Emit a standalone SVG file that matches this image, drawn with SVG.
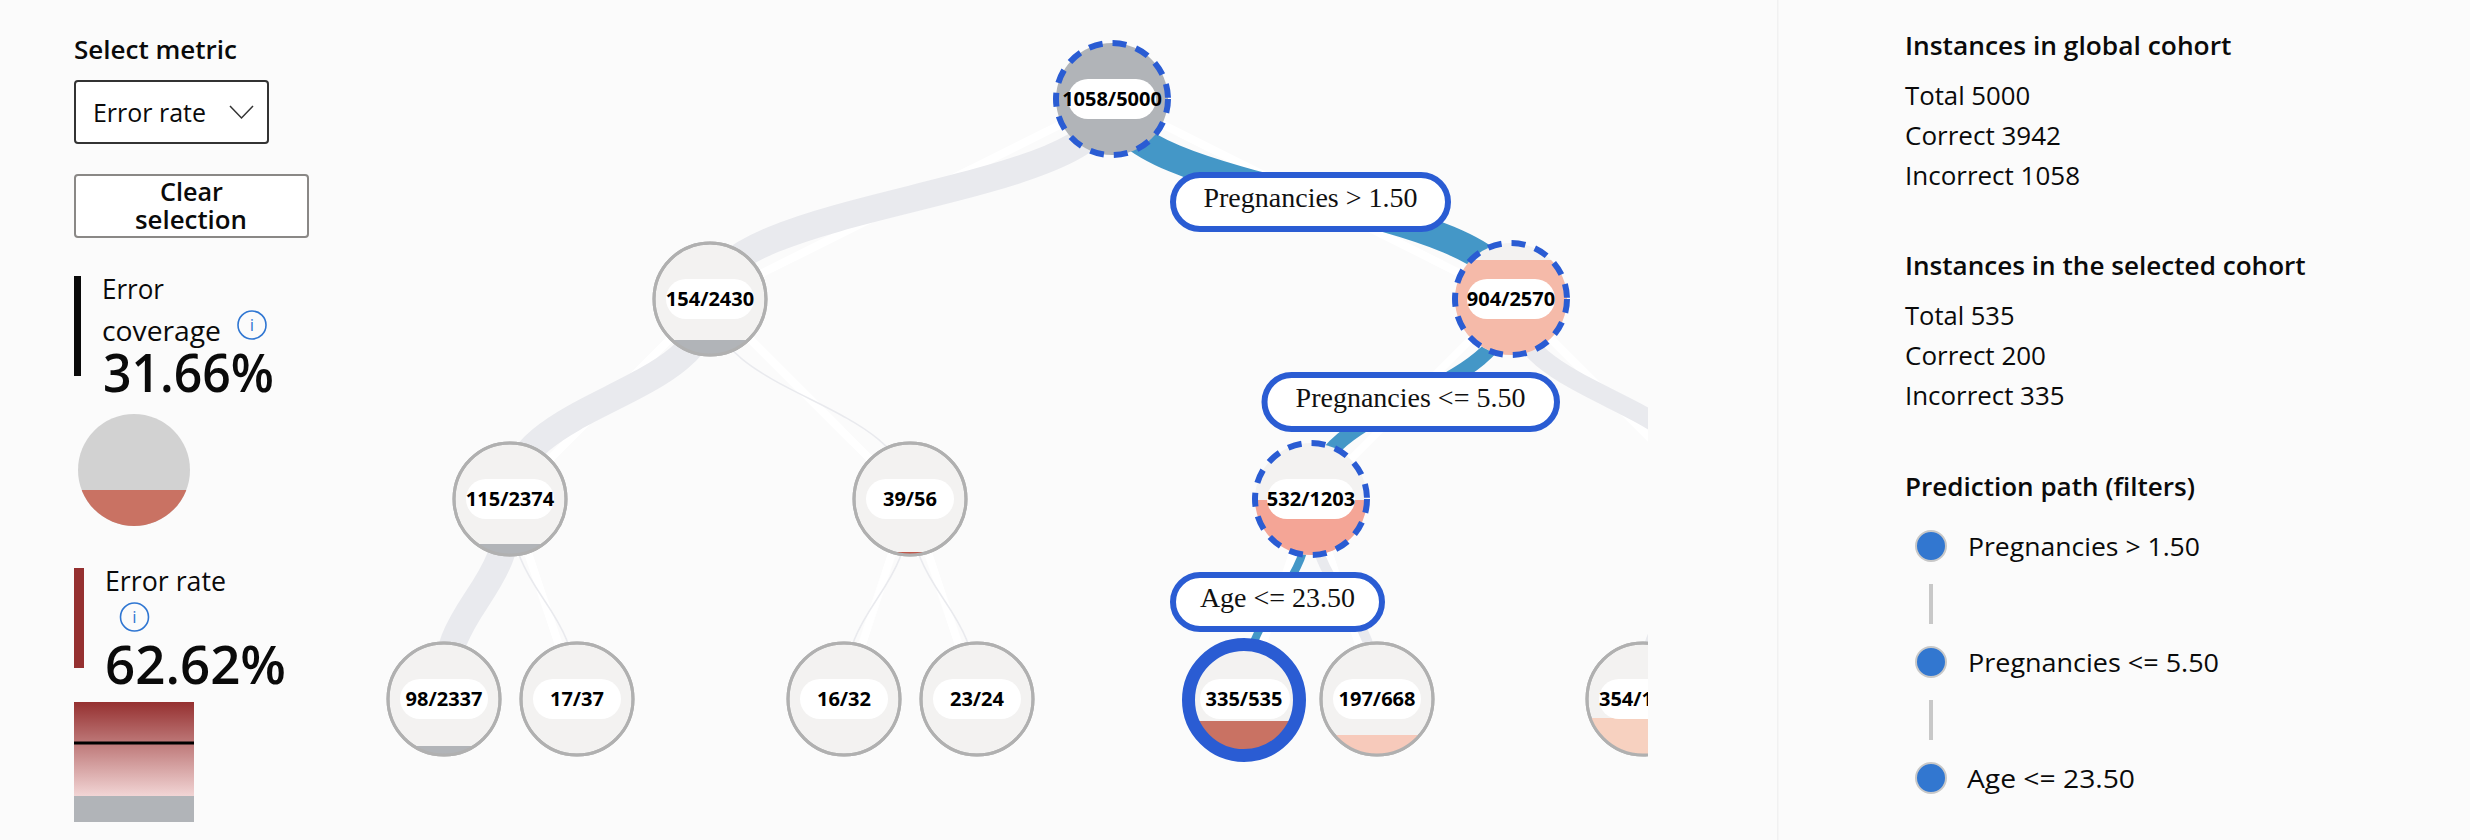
<svg xmlns="http://www.w3.org/2000/svg" width="2470" height="840" viewBox="0 0 2470 840">
<style>
text{font-family:"Open Sans","Noto Sans","Liberation Sans",sans-serif;fill:#0a0a0a;lengthAdjust:spacingAndGlyphs}
.h{font-size:26px;font-weight:600}
.b{font-size:26px}
.l{font-size:27px}
.big{font-size:53px;font-weight:600}
.nl{font-size:20px;font-weight:700;text-anchor:middle;fill:#000}
.pill{fill:#fff}
.n{fill:#f3f2f1;stroke:#b0b0b0;stroke-width:3}
.nf{fill:none;stroke:#b0b0b0;stroke-width:3}
.ns{fill:none;stroke:#2a5cd3;stroke-width:6;stroke-dasharray:14 10}
.w{fill:none;stroke:#fff;stroke-width:8}
.g{fill:none;stroke:#e9eaee}
.bl{fill:none;stroke:#4497c7}
.el{fill:#fff;stroke:#2a5cd3;stroke-width:6}
.et{font-family:"Liberation Serif",serif;font-size:28px;fill:#111;text-anchor:middle}
.ic{fill:none;stroke:#2f76d2;stroke-width:1.600}
.it{font-size:17px;fill:#2f76d2;text-anchor:middle}
.dot{fill:#3277d0;stroke:#c8c8c8;stroke-width:2}
.vb{fill:#c8c8c8}
</style>
<defs>
<linearGradient id="grad" x1="0" y1="0" x2="0" y2="1"><stop offset="0" stop-color="#953030"/><stop offset="1" stop-color="#f2d5d5"/></linearGradient>
<clipPath id="tree"><rect x="330" y="0" width="1318" height="840"/></clipPath>
<clipPath id="c1"><circle cx="1511" cy="299" r="56"/></clipPath>
<clipPath id="c2"><circle cx="1311" cy="499" r="56"/></clipPath>
<clipPath id="c3"><circle cx="1244" cy="700" r="56"/></clipPath>
<clipPath id="c4"><circle cx="1377" cy="699" r="56"/></clipPath>
<clipPath id="c5"><circle cx="1643" cy="699" r="56"/></clipPath>
<clipPath id="c6"><circle cx="710" cy="299" r="56"/></clipPath>
<clipPath id="c7"><circle cx="510" cy="499" r="56"/></clipPath>
<clipPath id="c8"><circle cx="910" cy="499" r="56"/></clipPath>
<clipPath id="c9"><circle cx="444" cy="699" r="56"/></clipPath>
<clipPath id="c10"><circle cx="577" cy="699" r="56"/></clipPath>
<clipPath id="c11"><circle cx="844" cy="699" r="56"/></clipPath>
<clipPath id="c12"><circle cx="977" cy="699" r="56"/></clipPath>
<clipPath id="c13"><circle cx="134" cy="470" r="56"/></clipPath>
</defs>
<rect width="2470" height="840" fill="#fbfbfb"/>
<rect x="1777" y="0" width="1.500" height="840" fill="#f1f1f1"/>

<g id="panel-left">
<text class="h" x="74" y="59" textLength="163" lengthAdjust="spacingAndGlyphs">Select metric</text>
<rect x="75" y="81" width="193" height="62" rx="3" fill="#fff" stroke="#333" stroke-width="2"/>
<text class="b" x="93" y="122" textLength="113" lengthAdjust="spacingAndGlyphs">Error rate</text>
<path d="M230 106L241.500 118L253 106" fill="none" stroke="#333" stroke-width="1.500"/>
<rect x="75" y="175" width="233" height="62" rx="3" fill="#fff" stroke="#8a8886" stroke-width="2"/>
<text class="h" x="160" y="201" textLength="63" lengthAdjust="spacingAndGlyphs">Clear</text>
<text class="h" x="135" y="229" textLength="112" lengthAdjust="spacingAndGlyphs">selection</text>
<rect x="74" y="276" width="7" height="100" fill="#0a0a0a"/>
<text class="l" x="102" y="299" textLength="62" lengthAdjust="spacingAndGlyphs">Error</text>
<text class="l" x="102" y="341" textLength="119" lengthAdjust="spacingAndGlyphs">coverage</text>
<circle class="ic" cx="252" cy="325" r="14"/><text class="it" x="252" y="331">i</text>
<text class="big" x="103" y="392" textLength="171" lengthAdjust="spacingAndGlyphs">31.66%</text>
<circle cx="134" cy="470" r="56" fill="#d2d2d2"/>
<rect x="70" y="490" width="130" height="40" fill="#c97263" clip-path="url(#c13)"/>
<rect x="74" y="568" width="10" height="100" fill="#953030"/>
<text class="l" x="105" y="591" textLength="121" lengthAdjust="spacingAndGlyphs">Error rate</text>
<circle class="ic" cx="134.500" cy="617" r="14"/><text class="it" x="134.500" y="623">i</text>
<text class="big" x="105" y="684" textLength="181" lengthAdjust="spacingAndGlyphs">62.62%</text>
<rect x="74" y="702" width="120" height="94" fill="url(#grad)"/>
<rect x="74" y="796" width="120" height="26" fill="#b1b4b8"/>
<rect x="74" y="741.500" width="120" height="3" fill="#000"/>
</g>

<g id="tree-view" clip-path="url(#tree)">
<g id="connectors">
<g id="shadows">
<path class="w" d="M1112 99L710 299"/><path class="w" d="M1112 99L1511 299"/>
<path class="w" d="M710 299L510 499"/><path class="w" d="M710 299L910 499"/>
<path class="w" d="M510 499L444 699"/><path class="w" d="M510 499L577 699"/>
<path class="w" d="M910 499L844 699"/><path class="w" d="M910 499L977 699"/>
<path class="w" d="M1511 299L1311 499"/><path class="w" d="M1511 299L1711 499"/>
<path class="w" d="M1311 499L1244 700"/><path class="w" d="M1311 499L1377 699"/>
<path class="w" d="M1711 499L1643 699"/>
</g>
<path class="g" stroke-width="27" d="M710 299C710 199 1112 199 1112 99"/>
<path class="g" stroke-width="27" d="M510 499C510 399 710 399 710 299"/>
<path class="g" stroke-width="1.500" d="M910 499C910 399 710 399 710 299"/>
<path class="g" stroke-width="27" d="M444 699C444 599 510 599 510 499"/>
<path class="g" stroke-width="1.500" d="M577 699C577 599 510 599 510 499"/>
<path class="g" stroke-width="1.500" d="M844 699C844 599 910 599 910 499"/>
<path class="g" stroke-width="1.500" d="M977 699C977 599 910 599 910 499"/>
<path class="g" stroke-width="19" d="M1711 499C1711 399 1511 399 1511 299"/>
<path class="g" stroke-width="10" d="M1377 699C1377 599 1311 599 1311 499"/>
<path class="g" stroke-width="15" d="M1643 699C1643 599 1711 599 1711 499"/>
<path class="bl" stroke-width="28" d="M1511 299C1511 199 1112 199 1112 99"/>
<path class="bl" stroke-width="15" d="M1311 499C1311 399 1511 399 1511 299"/>
<path class="bl" stroke-width="8" d="M1244 700C1244 600 1311 600 1311 499"/>
</g>

<g id="n-1058-5000"><circle cx="1112" cy="99" r="56" fill="#b1b4b8"/><circle class="ns" cx="1112" cy="99" r="56"/><rect class="pill" x="1068" y="79" width="88" height="40" rx="20"/><text class="nl" x="1112" y="106">1058/5000</text></g>
<g id="n-154-2430"><circle class="n" cx="710" cy="299" r="56"/><rect x="650" y="340" width="120" height="20" fill="#b1b4b8" clip-path="url(#c6)"/><circle class="nf" cx="710" cy="299" r="56"/><rect class="pill" x="666" y="279" width="88" height="40" rx="20"/><text class="nl" x="710" y="306">154/2430</text></g>
<g id="n-904-2570"><circle cx="1511" cy="299" r="56" fill="#f3f2f1"/><rect x="1450" y="260" width="120" height="100" fill="#f5baa9" clip-path="url(#c1)"/><circle class="ns" cx="1511" cy="299" r="56"/><rect class="pill" x="1467" y="279" width="88" height="40" rx="20"/><text class="nl" x="1511" y="306">904/2570</text></g>
<g id="n-115-2374"><circle class="n" cx="510" cy="499" r="56"/><rect x="450" y="544" width="120" height="20" fill="#b1b4b8" clip-path="url(#c7)"/><circle class="nf" cx="510" cy="499" r="56"/><rect class="pill" x="466" y="479" width="88" height="40" rx="20"/><text class="nl" x="510" y="506">115/2374</text></g>
<g id="n-39-56"><circle class="n" cx="910" cy="499" r="56"/><rect x="850" y="552" width="120" height="10" fill="#c0584b" clip-path="url(#c8)"/><circle class="nf" cx="910" cy="499" r="56"/><rect class="pill" x="866" y="479" width="88" height="40" rx="20"/><text class="nl" x="910" y="506">39/56</text></g>
<g id="n-532-1203"><circle cx="1311" cy="499" r="56" fill="#f3f2f1"/><rect x="1250" y="500" width="120" height="60" fill="#f4a596" clip-path="url(#c2)"/><circle class="ns" cx="1311" cy="499" r="56"/><rect class="pill" x="1267" y="479" width="88" height="40" rx="20"/><text class="nl" x="1311" y="506">532/1203</text></g>
<g id="n-98-2337"><circle class="n" cx="444" cy="699" r="56"/><rect x="384" y="746" width="120" height="12" fill="#b1b4b8" clip-path="url(#c9)"/><circle class="nf" cx="444" cy="699" r="56"/><rect class="pill" x="400" y="679" width="88" height="40" rx="20"/><text class="nl" x="444" y="706">98/2337</text></g>
<g id="n-17-37"><circle class="n" cx="577" cy="699" r="56"/><rect x="517" y="754" width="120" height="5" fill="#d8a9a0" clip-path="url(#c10)"/><circle class="nf" cx="577" cy="699" r="56"/><rect class="pill" x="533" y="679" width="88" height="40" rx="20"/><text class="nl" x="577" y="706">17/37</text></g>
<g id="n-16-32"><circle class="n" cx="844" cy="699" r="56"/><rect x="784" y="754" width="120" height="5" fill="#e0b5ac" clip-path="url(#c11)"/><circle class="nf" cx="844" cy="699" r="56"/><rect class="pill" x="800" y="679" width="88" height="40" rx="20"/><text class="nl" x="844" y="706">16/32</text></g>
<g id="n-23-24"><circle class="n" cx="977" cy="699" r="56"/><rect x="917" y="754" width="120" height="5" fill="#b5473a" clip-path="url(#c12)"/><circle class="nf" cx="977" cy="699" r="56"/><rect class="pill" x="933" y="679" width="88" height="40" rx="20"/><text class="nl" x="977" y="706">23/24</text></g>
<g id="n-335-535"><circle cx="1244" cy="700" r="56" fill="#f3f2f1"/><rect x="1184" y="721" width="120" height="50" fill="#c97263" clip-path="url(#c3)"/><circle cx="1244" cy="700" r="55.500" fill="none" stroke="#2a5cd3" stroke-width="13"/><rect class="pill" x="1200" y="679" width="90" height="40" rx="20"/><text class="nl" x="1244" y="706">335/535</text></g>
<g id="n-197-668"><circle class="n" cx="1377" cy="699" r="56"/><rect x="1317" y="735" width="120" height="30" fill="#f7cabb" clip-path="url(#c4)"/><circle class="nf" cx="1377" cy="699" r="56"/><rect class="pill" x="1333" y="679" width="88" height="40" rx="20"/><text class="nl" x="1377" y="706">197/668</text></g>
<g id="n-354"><circle class="n" cx="1643" cy="699" r="56"/><rect x="1583" y="718" width="120" height="50" fill="#f7d1c0" clip-path="url(#c5)"/><circle class="nf" cx="1643" cy="699" r="56"/><rect class="pill" x="1599" y="679" width="88" height="40" rx="20"/><text class="nl" x="1599" y="706" style="text-anchor:start">354/1</text></g>

<g id="e1"><rect class="el" x="1173" y="175" width="275" height="54" rx="27"/><text class="et" x="1310.500" y="207">Pregnancies &gt; 1.50</text></g>
<g id="e2"><rect class="el" x="1264.500" y="375" width="292.500" height="54" rx="27"/><text class="et" x="1410.500" y="407">Pregnancies &lt;= 5.50</text></g>
<g id="e3"><rect class="el" x="1173" y="575" width="209" height="54" rx="27"/><text class="et" x="1277.500" y="607">Age &lt;= 23.50</text></g>
</g>

<g id="panel-right">
<text class="h" x="1905" y="55" textLength="326.500" lengthAdjust="spacingAndGlyphs">Instances in global cohort</text>
<text class="b" x="1905" y="105" textLength="125.300" lengthAdjust="spacingAndGlyphs">Total 5000</text>
<text class="b" x="1905" y="145" textLength="156" lengthAdjust="spacingAndGlyphs">Correct 3942</text>
<text class="b" x="1905" y="185" textLength="175" lengthAdjust="spacingAndGlyphs">Incorrect 1058</text>
<text class="h" x="1905" y="275" textLength="400.700" lengthAdjust="spacingAndGlyphs">Instances in the selected cohort</text>
<text class="b" x="1905" y="325" textLength="109.500" lengthAdjust="spacingAndGlyphs">Total 535</text>
<text class="b" x="1905" y="365" textLength="141" lengthAdjust="spacingAndGlyphs">Correct 200</text>
<text class="b" x="1905" y="405" textLength="159.500" lengthAdjust="spacingAndGlyphs">Incorrect 335</text>
<text class="h" x="1905" y="496" textLength="290" lengthAdjust="spacingAndGlyphs">Prediction path (filters)</text>
<circle class="dot" cx="1931" cy="546" r="15"/><text class="b" x="1968" y="556" textLength="232" lengthAdjust="spacingAndGlyphs">Pregnancies &gt; 1.50</text>
<rect class="vb" x="1929" y="584" width="4" height="40"/>
<circle class="dot" cx="1931" cy="662" r="15"/><text class="b" x="1968" y="672" textLength="251" lengthAdjust="spacingAndGlyphs">Pregnancies &lt;= 5.50</text>
<rect class="vb" x="1929" y="700" width="4" height="40"/>
<circle class="dot" cx="1931" cy="778" r="15"/><text class="b" x="1967" y="788" textLength="168" lengthAdjust="spacingAndGlyphs">Age &lt;= 23.50</text>
</g>
</svg>
